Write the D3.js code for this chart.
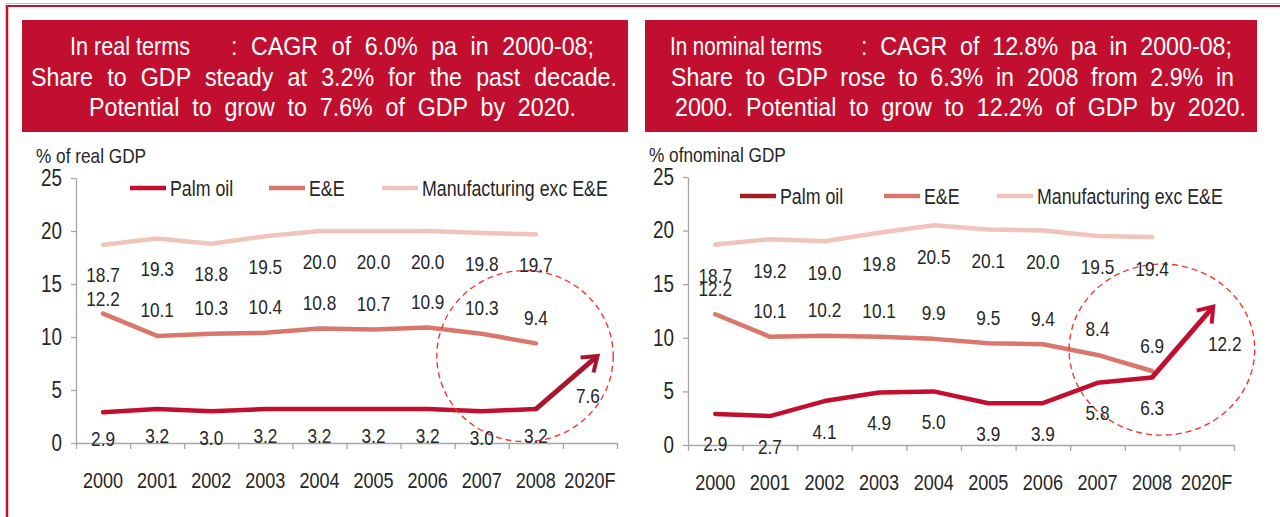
<!DOCTYPE html>
<html>
<head>
<meta charset="utf-8">
<script src="https://cdn.jsdelivr.net/npm/d3@7"></script>
<style>
  html, body { margin: 0; padding: 0; background: #ffffff; }
  svg { display: block; }
  text { font-family: "Liberation Sans", Arial, sans-serif; }
</style>
</head>
<body>
<svg id="chart" width="1280" height="517"></svg>
<script>
// ---- data ----
const categories = ["2000", "2001", "2002", "2003", "2004", "2005", "2006", "2007", "2008", "2020F"];
const yTicks = [0, 5, 10, 15, 20, 25];
const seriesNames = ["Palm oil", "E&E", "Manufacturing exc E&E"];

// share of real GDP (%)
const realPalm = [2.9, 3.2, 3.0, 3.2, 3.2, 3.2, 3.2, 3.0, 3.2, 7.6];
const realEE   = [12.2, 10.1, 10.3, 10.4, 10.8, 10.7, 10.9, 10.3, 9.4, null];
const realMfg  = [18.7, 19.3, 18.8, 19.5, 20.0, 20.0, 20.0, 19.8, 19.7, null];

// share of nominal GDP (%)
const nominalPalm = [2.9, 2.7, 4.1, 4.9, 5.0, 3.9, 3.9, 5.8, 6.3, 12.2];
const nominalEE   = [12.2, 10.1, 10.2, 10.1, 9.9, 9.5, 9.4, 8.4, 6.9, null];
const nominalMfg  = [18.7, 19.2, 19.0, 19.8, 20.5, 20.1, 20.0, 19.5, 19.4, null];

const realTitle = [
  ["In real terms", ": CAGR of 6.0% pa in 2000-08;"],
  ["Share to GDP steady at 3.2% for the past decade."],
  ["Potential to grow to 7.6% of GDP by 2020."]
];
const nominalTitle = [
  ["In nominal terms", ": CAGR of 12.8% pa in 2000-08;"],
  ["Share to GDP rose to 6.3% in 2008 from 2.9% in"],
  ["2000. Potential to grow to 12.2% of GDP by 2020."]
];

// ---- colours ----
const RED = "#C20F2F";
const EE_COLOR = "#D9776C";
const MFG_COLOR = "#F0C4BB";
const AXIS_COLOR = "#A6A6A6";
const LABEL_COLOR = "#262626";
const NARROW = 0.82;        // condensed lettering for chart text
const TITLE_NARROW = 0.93;  // slightly condensed lettering for the headline boxes

// ---- panel layout ----
const panels = [
  {
    palm: realPalm, ee: realEE, mfg: realMfg, title: realTitle, yTitle: "% of real GDP",
    box: { x: 22, y: 20, w: 606, h: 112 },
    titleSpans: [[[70, 190], [231, 594]], [[31, 617]], [[89, 576]]],
    plot: { x0: 76, x1: 617, yTop: 178, yBottom: 443 },
    yTitlePos: { x: 36, y: 155 },
    legend: { y: 188, x: [130, 269, 382] },
    palmLegendColor: RED, palmColor: RED, arrowColor: "#A8162C",
    labelDy: { palm: 26, ee: -26, mfg: 30 },
    forecastShift: { dx: -2, dy: 33 },
    separateFirst: true,
    highlight: { index: 7.8, value: 8.2, rxBands: 1.63, ryValue: 8.07 }
  },
  {
    palm: nominalPalm, ee: nominalEE, mfg: nominalMfg, title: nominalTitle, yTitle: "% ofnominal GDP",
    box: { x: 645, y: 20, w: 612, h: 112 },
    titleSpans: [[[670, 822], [861, 1232]], [[671, 1234]], [[675, 1246]]],
    plot: { x0: 688, x1: 1234, yTop: 177, yBottom: 445 },
    yTitlePos: { x: 649, y: 154 },
    legend: { y: 196, x: [740, 884, 997] },
    palmLegendColor: "#A31D25", palmColor: RED, arrowColor: RED,
    labelDy: { palm: 30, ee: -26, mfg: 31 },
    forecastShift: { dx: 18, dy: 29 },
    separateFirst: false,
    highlight: { index: 8.18, value: 8.9, rxBands: 1.70, ryValue: 7.98 }
  }
];

const svg = d3.select("#chart");

// condense glyphs horizontally, keeping the anchor point
function narrow(sel) {
  sel.each(function () {
    const w = this.getComputedTextLength();
    d3.select(this).attr("textLength", w * NARROW).attr("lengthAdjust", "spacingAndGlyphs");
  });
}

// outer frame: top rule and left rule
svg.append("line").attr("x1", 6).attr("x2", 1280).attr("y1", 3.5).attr("y2", 3.5)
  .attr("stroke", "#EBA7B3").attr("stroke-width", 1);
svg.append("line").attr("x1", 6).attr("x2", 1280).attr("y1", 6).attr("y2", 6)
  .attr("stroke", RED).attr("stroke-width", 2);
svg.append("line").attr("x1", 7).attr("x2", 7).attr("y1", 5).attr("y2", 517)
  .attr("stroke", RED).attr("stroke-width", 2.5);

panels.forEach(p => {
  const g = svg.append("g");

  // title box: white lettering fitted to each span
  g.append("rect").attr("x", p.box.x).attr("y", p.box.y)
    .attr("width", p.box.w).attr("height", p.box.h).attr("fill", RED);
  const lineY = [46, 77, 107];
  p.title.forEach((pieces, li) => {
    pieces.forEach((txt, pi) => {
      const span = p.titleSpans[li][pi];
      const t = g.append("text")
        .attr("transform", `translate(${span[0]},${lineY[li]}) scale(${TITLE_NARROW},1)`)
        .attr("x", 0).attr("y", 0)
        .attr("dominant-baseline", "central")
        .attr("fill", "#ffffff").attr("font-size", 25)
        .text(txt);
      const natural = t.node().getComputedTextLength();
      const spaces = (txt.match(/ /g) || []).length;
      const target = (span[1] - span[0]) / TITLE_NARROW;
      if (spaces > 0 && target > natural) {
        // widen the word gaps
        t.attr("word-spacing", (target - natural) / spaces);
      } else {
        // too long for its span: squeeze the glyphs instead
        t.attr("textLength", target).attr("lengthAdjust", "spacingAndGlyphs");
      }
    });
  });

  // scales
  const n = categories.length;
  const xi = d3.scaleLinear().domain([-0.5, n - 0.5]).range([p.plot.x0, p.plot.x1]);
  const y = d3.scaleLinear().domain([0, 25]).range([p.plot.yBottom, p.plot.yTop]);
  const step = xi(1) - xi(0);

  // y axis
  const yAxis = g.append("g").attr("transform", `translate(${p.plot.x0},0)`)
    .call(d3.axisLeft(y).tickValues(yTicks).tickSize(5).tickPadding(9).tickSizeOuter(0));
  yAxis.select(".domain").attr("stroke", AXIS_COLOR).attr("stroke-width", 1.3);
  yAxis.selectAll(".tick line").attr("stroke", AXIS_COLOR).attr("stroke-width", 1.3);
  yAxis.selectAll(".tick text").attr("font-size", 23).attr("fill", LABEL_COLOR)
    .attr("font-family", null).call(narrow);

  // x axis: ticks between categories, labels at category centres
  const boundaries = d3.range(n + 1).map(i => i - 0.5);
  const xAxis = g.append("g").attr("transform", `translate(0,${p.plot.yBottom})`)
    .call(d3.axisBottom(xi).tickValues(boundaries).tickSize(6).tickSizeOuter(0).tickFormat(""));
  xAxis.select(".domain").attr("stroke", AXIS_COLOR).attr("stroke-width", 1.3);
  xAxis.selectAll(".tick line").attr("stroke", AXIS_COLOR).attr("stroke-width", 1.3);
  g.append("g").selectAll("text").data(categories).join("text")
    .attr("x", (d, i) => xi(i)).attr("y", p.plot.yBottom + 37)
    .attr("text-anchor", "middle").attr("dominant-baseline", "central")
    .attr("font-size", 22).attr("fill", LABEL_COLOR)
    .text(d => d).call(narrow);

  // y title
  g.append("text").attr("x", p.yTitlePos.x).attr("y", p.yTitlePos.y)
    .attr("dominant-baseline", "central").attr("font-size", 21).attr("fill", LABEL_COLOR)
    .text(p.yTitle).call(narrow);

  // legend
  const legendColors = [p.palmLegendColor, EE_COLOR, MFG_COLOR];
  seriesNames.forEach((name, k) => {
    const lx = p.legend.x[k];
    g.append("line").attr("x1", lx).attr("x2", lx + 36)
      .attr("y1", p.legend.y).attr("y2", p.legend.y)
      .attr("stroke", legendColors[k]).attr("stroke-width", 4.5);
    g.append("text").attr("x", lx + 40).attr("y", p.legend.y)
      .attr("dominant-baseline", "central").attr("font-size", 21.7).attr("fill", LABEL_COLOR)
      .text(name).call(narrow);
  });

  // series lines
  const line = d3.line()
    .defined(d => d.v != null)
    .x(d => xi(d.i)).y(d => y(d.v));
  const toPts = arr => arr.map((v, i) => ({ i, v }));

  const mfgPts = toPts(p.mfg);
  const eePts = toPts(p.ee);
  const palmPts = toPts(p.palm);
  const palmHist = palmPts.slice(0, n - 1);
  const palmFc = palmPts.slice(n - 2);

  g.append("path").datum(mfgPts).attr("d", line)
    .attr("fill", "none").attr("stroke", MFG_COLOR).attr("stroke-width", 4.5)
    .attr("stroke-linejoin", "round").attr("stroke-linecap", "round");
  g.append("path").datum(eePts).attr("d", line)
    .attr("fill", "none").attr("stroke", EE_COLOR).attr("stroke-width", 4.5)
    .attr("stroke-linejoin", "round").attr("stroke-linecap", "round");
  g.append("path").datum(palmHist).attr("d", line)
    .attr("fill", "none").attr("stroke", p.palmColor).attr("stroke-width", 4.5)
    .attr("stroke-linejoin", "round").attr("stroke-linecap", "round");

  // forecast arrow from 2008 to 2020F
  const a = palmFc[0], b = palmFc[1];
  const ax = xi(a.i), ay = y(a.v), bx = xi(b.i), by = y(b.v);
  const ang = Math.atan2(by - ay, bx - ax);
  const tipX = bx + Math.cos(ang) * 10, tipY = by + Math.sin(ang) * 10;
  g.append("path")
    .attr("d", `M${ax},${ay}L${tipX - Math.cos(ang) * 2},${tipY - Math.sin(ang) * 2}`)
    .attr("fill", "none").attr("stroke", p.arrowColor).attr("stroke-width", 5)
    .attr("stroke-linecap", "butt");
  const wing = 17, spread = 0.62;
  g.append("path")
    .attr("d", `M${tipX - Math.cos(ang - spread) * wing},${tipY - Math.sin(ang - spread) * wing}` +
               `L${tipX},${tipY}` +
               `L${tipX - Math.cos(ang + spread) * wing},${tipY - Math.sin(ang + spread) * wing}`)
    .attr("fill", "none").attr("stroke", p.arrowColor).attr("stroke-width", 4)
    .attr("stroke-linejoin", "miter").attr("stroke-linecap", "butt");

  // highlight ellipse
  const h = p.highlight;
  g.append("ellipse")
    .attr("cx", xi(h.index)).attr("cy", y(h.value))
    .attr("rx", h.rxBands * step).attr("ry", y(0) - y(h.ryValue))
    .attr("fill", "none").attr("stroke", "#EE3B2C").attr("stroke-width", 1.4)
    .attr("stroke-dasharray", "6,4");

  // data labels
  const fmt = d3.format(".1f");
  const labels = [];
  mfgPts.filter(d => d.v != null).forEach(d =>
    labels.push({ x: xi(d.i), y: y(d.v) + p.labelDy.mfg, t: fmt(d.v), s: "mfg", i: d.i }));
  eePts.filter(d => d.v != null).forEach(d =>
    labels.push({ x: xi(d.i), y: y(d.v) + p.labelDy.ee, t: fmt(d.v), s: "ee", i: d.i }));
  palmPts.forEach(d => {
    const fc = d.i === n - 1;
    labels.push({
      x: xi(d.i) + (fc ? p.forecastShift.dx : 0),
      y: y(d.v) + (fc ? p.forecastShift.dy : p.labelDy.palm),
      t: fmt(d.v), s: "palm", i: d.i
    });
  });
  if (p.separateFirst) {
    // keep the E&E label clear of the manufacturing label above it
    labels.filter(l => l.s === "ee").forEach(l => {
      const m = labels.find(o => o.s === "mfg" && o.i === l.i);
      if (m && l.y - m.y < 22) l.y = m.y + 24;
    });
  }
  g.append("g").selectAll("text").data(labels).join("text")
    .attr("x", d => d.x).attr("y", d => d.y)
    .attr("text-anchor", "middle").attr("dominant-baseline", "central")
    .attr("font-size", 21).attr("fill", LABEL_COLOR)
    .text(d => d.t).call(narrow);
});
</script>
</body>
</html>
